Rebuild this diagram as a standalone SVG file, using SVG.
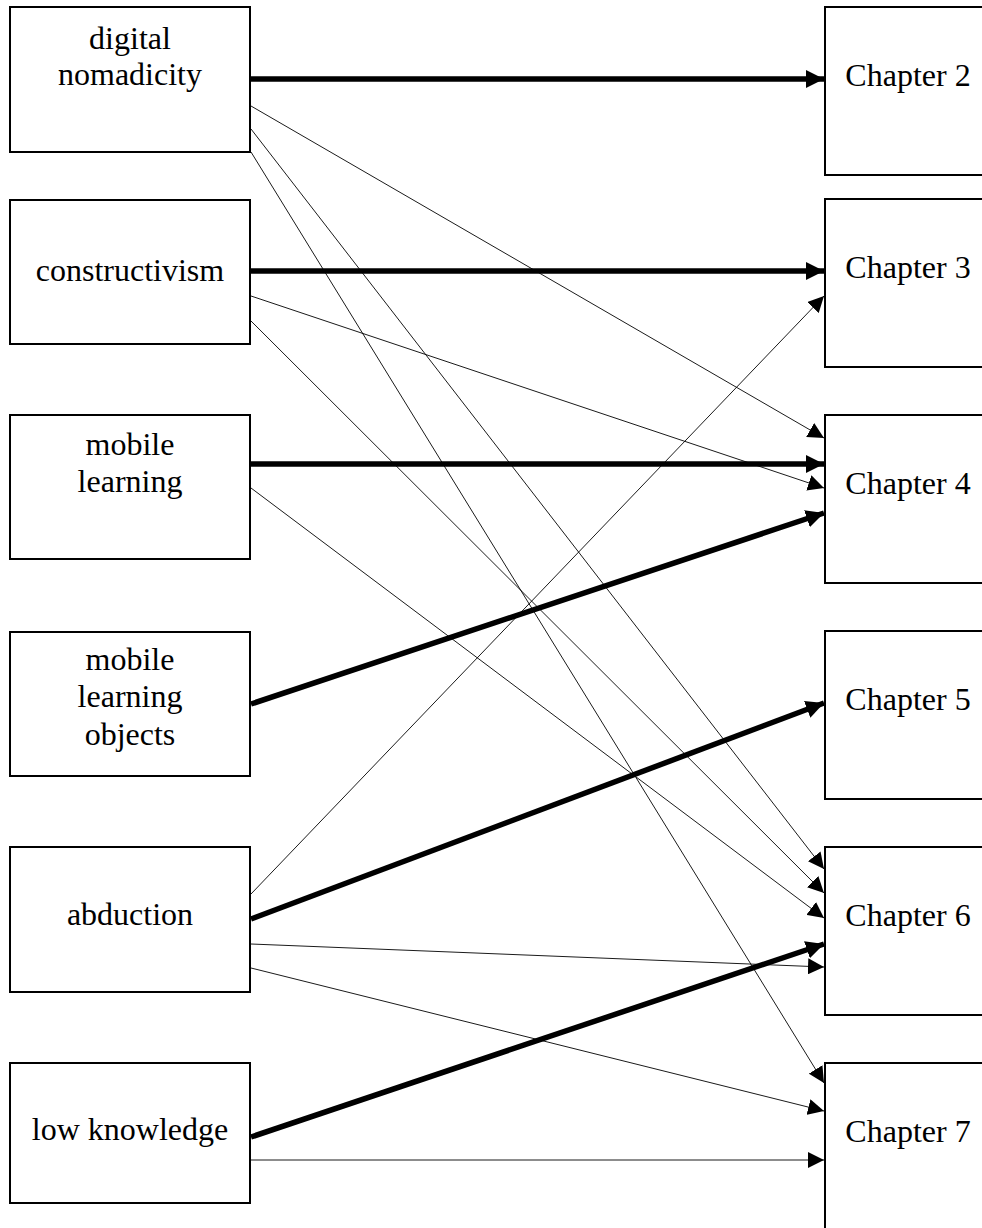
<svg xmlns="http://www.w3.org/2000/svg" width="982" height="1228" viewBox="0 0 982 1228">
<style>
.box{fill:#fff;stroke:#000;stroke-width:2}
.lbl{font-size:32px;fill:#000;text-anchor:middle}
.thick{stroke:#000;stroke-width:5.5;fill:none;marker-end:url(#ahThick)}
.thin{stroke:#000;stroke-width:0.9;fill:none;marker-end:url(#ahThin)}
</style>
<defs>
<marker id="ahThick" markerUnits="userSpaceOnUse" markerWidth="18" markerHeight="18" refX="18" refY="9" orient="auto">
<path d="M0,0 L18,9 L0,18 z" fill="#000"/>
</marker>
<marker id="ahThin" markerUnits="userSpaceOnUse" markerWidth="16" markerHeight="16" refX="16" refY="8" orient="auto">
<path d="M0,0 L16,8 L0,16 z" fill="#000"/>
</marker>
</defs>
<rect width="982" height="1228" fill="#fff"/>
<g font-family="'Liberation Serif', 'Times New Roman', serif">
<g id="n-digital"><rect class="box" x="10" y="7" width="240" height="145"/><text class="lbl" x="130" y="49">digital</text><text class="lbl" x="130" y="85">nomadicity</text></g>
<g id="n-constructivism"><rect class="box" x="10" y="200" width="240" height="144"/><text class="lbl" x="130" y="281">constructivism</text></g>
<g id="n-mobile-learning"><rect class="box" x="10" y="415" width="240" height="144"/><text class="lbl" x="130" y="455">mobile</text><text class="lbl" x="130" y="492">learning</text></g>
<g id="n-mlo"><rect class="box" x="10" y="632" width="240" height="144"/><text class="lbl" x="130" y="670">mobile</text><text class="lbl" x="130" y="707">learning</text><text class="lbl" x="130" y="745">objects</text></g>
<g id="n-abduction"><rect class="box" x="10" y="847" width="240" height="145"/><text class="lbl" x="130" y="925">abduction</text></g>
<g id="n-low"><rect class="box" x="10" y="1063" width="240" height="140"/><text class="lbl" x="130" y="1140">low knowledge</text></g>
<g id="c2"><rect class="box" x="825" y="7" width="170" height="168"/><text class="lbl" x="908" y="86">Chapter 2</text></g>
<g id="c3"><rect class="box" x="825" y="199" width="170" height="168"/><text class="lbl" x="908" y="278">Chapter 3</text></g>
<g id="c4"><rect class="box" x="825" y="415" width="170" height="168"/><text class="lbl" x="908" y="494">Chapter 4</text></g>
<g id="c5"><rect class="box" x="825" y="631" width="170" height="168"/><text class="lbl" x="908" y="710">Chapter 5</text></g>
<g id="c6"><rect class="box" x="825" y="847" width="170" height="168"/><text class="lbl" x="908" y="926">Chapter 6</text></g>
<g id="c7"><rect class="box" x="825" y="1063" width="170" height="168"/><text class="lbl" x="908" y="1142">Chapter 7</text></g>
</g>
<g id="connectors">
<line class="thick" x1="251" y1="79" x2="824" y2="79"/>
<line class="thick" x1="251" y1="271" x2="824" y2="271"/>
<line class="thick" x1="251" y1="464" x2="824" y2="464"/>
<line class="thick" x1="251" y1="704" x2="824" y2="513"/>
<line class="thick" x1="251" y1="919" x2="824" y2="703"/>
<line class="thick" x1="251" y1="1137" x2="824" y2="944"/>
<line class="thin" x1="251" y1="106" x2="824" y2="438"/>
<line class="thin" x1="251" y1="129" x2="824" y2="869"/>
<line class="thin" x1="251" y1="152" x2="824" y2="1083"/>
<line class="thin" x1="251" y1="296" x2="824" y2="488"/>
<line class="thin" x1="251" y1="321" x2="824" y2="893"/>
<line class="thin" x1="251" y1="488" x2="824" y2="918"/>
<line class="thin" x1="251" y1="894" x2="824" y2="296"/>
<line class="thin" x1="251" y1="944" x2="824" y2="967"/>
<line class="thin" x1="251" y1="968" x2="824" y2="1111"/>
<line class="thin" x1="251" y1="1160" x2="824" y2="1160"/>
</g>
</svg>
